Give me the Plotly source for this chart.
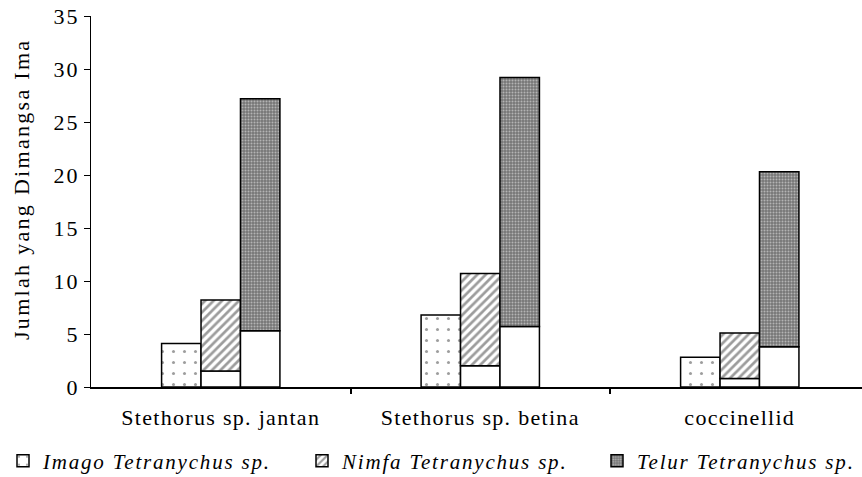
import plotly.graph_objects as go

# Predator groups and prey consumption (number of prey eaten)
groups = ["Stethorus sp. jantan", "Stethorus sp. betina", "coccinellid"]
series = ["Imago Tetranychus sp.", "Nimfa Tetranychus sp.", "Telur Tetranychus sp."]

# Lower and upper ends of each bar (patterned part spans low -> high)
imago_low = [0.0, 0.0, 0.0]
imago_high = [4.1, 6.8, 2.8]
nimfa_low = [1.5, 2.0, 0.8]
nimfa_high = [8.2, 10.7, 5.1]
telur_low = [5.3, 5.7, 3.8]
telur_high = [27.2, 29.2, 20.3]

y_ticks = [0, 5, 10, 15, 20, 25, 30, 35]

xpos = list(range(len(groups)))
bar_w = 0.152
offsets = [-0.228, -0.076, 0.076]
FONT = "Liberation Serif, Times New Roman, serif"


def spaced(text, px):
    """Wrap text in a span with extra letter spacing."""
    return f'<span style="letter-spacing:{px}px">{text}</span>'


patterns = [
    dict(shape=".", fgcolor="#3c3c3c", bgcolor="white", size=11, solidity=0.06),
    dict(shape="/", fgcolor="#3a3a3a", bgcolor="white", size=6, solidity=0.45),
    dict(shape=".", fgcolor="#f2f2f2", bgcolor="#767676", size=3, solidity=0.35),
]
lows = [imago_low, nimfa_low, telur_low]
highs = [imago_high, nimfa_high, telur_high]
legend_ids = ["legend", "legend2", "legend3"]

fig = go.Figure()
for name, lo, hi, off, pat, lg in zip(series, lows, highs, offsets, patterns, legend_ids):
    # white lower section of the bar
    if any(v > 0 for v in lo):
        fig.add_trace(go.Bar(
            x=xpos, y=lo, base=[0] * len(lo), width=bar_w, offset=off,
            marker=dict(color="white", line=dict(color="black", width=1.5)),
            showlegend=False, hoverinfo="skip",
        ))
    # patterned section
    fig.add_trace(go.Bar(
        x=xpos, y=[h - l for h, l in zip(hi, lo)], base=lo,
        width=bar_w, offset=off, name=spaced(name, 1.8), legend=lg,
        marker=dict(color="white", pattern=pat,
                    line=dict(color="black", width=1.5)),
    ))

# Invisible trace carrying the separator ticks between categories
fig.add_trace(go.Scatter(x=[0.5, 1.5], y=[0, 0], xaxis="x2", mode="none",
                         showlegend=False, hoverinfo="skip"))

legend_font = dict(family=FONT, size=21, style="italic")
legend_common = dict(xanchor="left", yanchor="middle", y=-0.1995,
                     font=legend_font, itemclick=False, itemdoubleclick=False,
                     bgcolor="rgba(0,0,0,0)")
W_PLOT = 771.0

fig.update_layout(
    width=862, height=477,
    margin=dict(l=91, r=0, t=16, b=90, autoexpand=False),
    paper_bgcolor="white", plot_bgcolor="white",
    barmode="overlay",
    font=dict(family=FONT, size=16, color="black"),
    xaxis=dict(
        range=[-0.5, 2.471], tickvals=xpos,
        ticktext=[spaced(g, 1.3) for g in groups],
        ticks="outside", ticklen=10, tickcolor="rgba(0,0,0,0)",
        showline=True, linecolor="black", linewidth=1.5,
        showgrid=False, zeroline=False, automargin=False,
        tickfont=dict(family=FONT, size=22),
    ),
    xaxis2=dict(
        overlaying="x", anchor="y", side="bottom", matches="x",
        tickvals=[0.5, 1.5], showticklabels=False, ticks="outside",
        ticklen=6, tickwidth=1.5, tickcolor="black",
        showline=False, showgrid=False, zeroline=False, automargin=False,
    ),
    yaxis=dict(
        range=[0, 35], tickvals=y_ticks,
        ticktext=[spaced(str(t), 2) for t in y_ticks],
        ticks="outside", ticklen=6,
        tickwidth=1, tickcolor="black", showline=True, linecolor="black",
        linewidth=1, showgrid=False, zeroline=False, ticklabelstandoff=0,
        automargin=False, tickfont=dict(family=FONT, size=22),
    ),
    legend=dict(x=(3 - 91) / W_PLOT, **legend_common),
    legend2=dict(x=(302 - 91) / W_PLOT, **legend_common),
    legend3=dict(x=(597 - 91) / W_PLOT, **legend_common),
    annotations=[dict(
        text=spaced("Jumlah yang Dimangsa Ima", 2.3),
        textangle=-90,
        xref="paper", yref="paper", x=(22 - 91) / W_PLOT, y=(387 - 190) / 371,
        xanchor="center", yanchor="middle", showarrow=False,
        font=dict(family=FONT, size=22),
    )],
)

fig.write_html("out.html")
